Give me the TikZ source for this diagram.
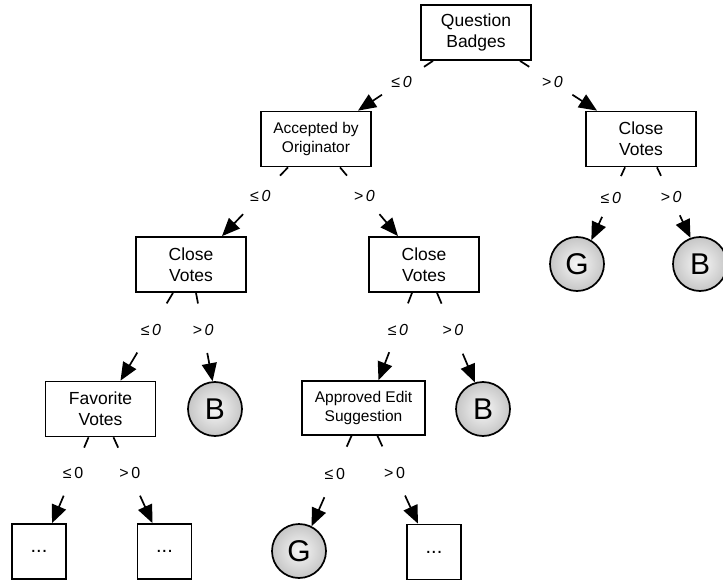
\documentclass[tikz,border=0pt]{standalone}
\usepackage{fontspec}
\setmainfont{Liberation Sans}
\usetikzlibrary{arrows.meta,calc}

\begin{document}
\begin{tikzpicture}[
    x=1pt, y=-1pt,
    line width=1.7pt,
    every node/.style={font=\fontsize{17.5}{21}\selectfont},
    box/.style={draw, inner sep=0pt, align=center,
                minimum width=110pt, minimum height=55pt},
    smallbox/.style={box, font=\fontsize{15.5}{19}\selectfont},
    leaf/.style={draw, inner sep=0pt, minimum width=54pt, minimum height=55pt,
                 font=\fontsize{20}{22}\selectfont},
    cls/.style={draw, circle, inner sep=0pt, minimum size=54pt,
                inner color=gray!6, outer color=gray!45,
                font=\fontsize{30}{32}\selectfont},
    lbl/.style={font=\fontsize{16}{18}\selectfont\itshape},
    lblup/.style={font=\fontsize{16}{18}\selectfont},
    arr/.style={-{Triangle[length=18pt,width=15pt]}},
  ]
  \useasboundingbox (0,0) rectangle (723,583);
  % split nodes
  \node[box] (qb)  at (476, 32.5) {Question\\Badges};
  \node[smallbox] (abo) at (316, 139) {Accepted by\\Originator};
  \node[box] (cvr) at (641, 139) {Close\\Votes};
  \node[box] (cvl) at (191, 264.5) {Close\\Votes};
  \node[box] (cvm) at (424, 264.5) {Close\\Votes};
  \node[box] (fav) at (100.5, 409) {Favorite\\Votes};
  \node[smallbox, minimum width=123pt, minimum height=54pt] (aes) at (363.5, 408)
    {Approved Edit\\Suggestion};
  % leaves
  \node[cls] (gr) at (577, 264) {G};
  \node[cls] (br) at (700, 264) {B};
  \node[cls] (bl) at (215, 409) {B};
  \node[cls] (bm) at (483, 409) {B};
  \node[cls] (gb) at (299, 551) {G};
  \node[leaf] (d1) at (39, 551.5) {...};
  \node[leaf] (d2) at (164.5, 551.5) {...};
  \node[leaf] (d3) at (434, 552) {...};
  % branches: stub, label, arrow
  \foreach \from/\dx/\tgt/\off/\lab in {
      qb/-43/abo.north/42/{≤\,0}, qb/44/cvr.north/-44/{>\,0},
      abo/-28/cvl.north/31/{≤\,0}, abo/24/cvm.north/-26/{>\,0},
      cvr/-16/gr.59/0/{≤\,0}, cvr/16/br.110/0/{>\,0},
      cvl/-18/fav.north/20/{≤\,0}, cvl/5/bl.95/0/{>\,0},
      cvm/-12/aes.north/15/{≤\,0}, cvm/13/bm.107/0/{>\,0}} {
    \path ($(\from.south)+(\dx,0)$) coordinate (s) ($(\tgt)+(\off,0)$) coordinate (t);
    \draw (s) -- ($(s)!0.12!(t)$);
    \node[lbl] at ($(s)!0.42!(t)$) {\lab};
    \draw[arr] ($(s)!0.68!(t)$) -- (t);
  }
  \foreach \from/\dx/\tgt/\off/\lab in {
      fav/-12/d1.north/13/{≤\,0}, fav/13/d2.north/-12/{>\,0},
      aes/-12/gb.63/0/{≤\,0}, aes/14/d3.north/-16/{>\,0}} {
    \path ($(\from.south)+(\dx,0)$) coordinate (s) ($(\tgt)+(\off,0)$) coordinate (t);
    \draw (s) -- ($(s)!0.12!(t)$);
    \node[lblup] at ($(s)!0.42!(t)$) {\lab};
    \draw[arr] ($(s)!0.68!(t)$) -- (t);
  }
\end{tikzpicture}
\end{document}
